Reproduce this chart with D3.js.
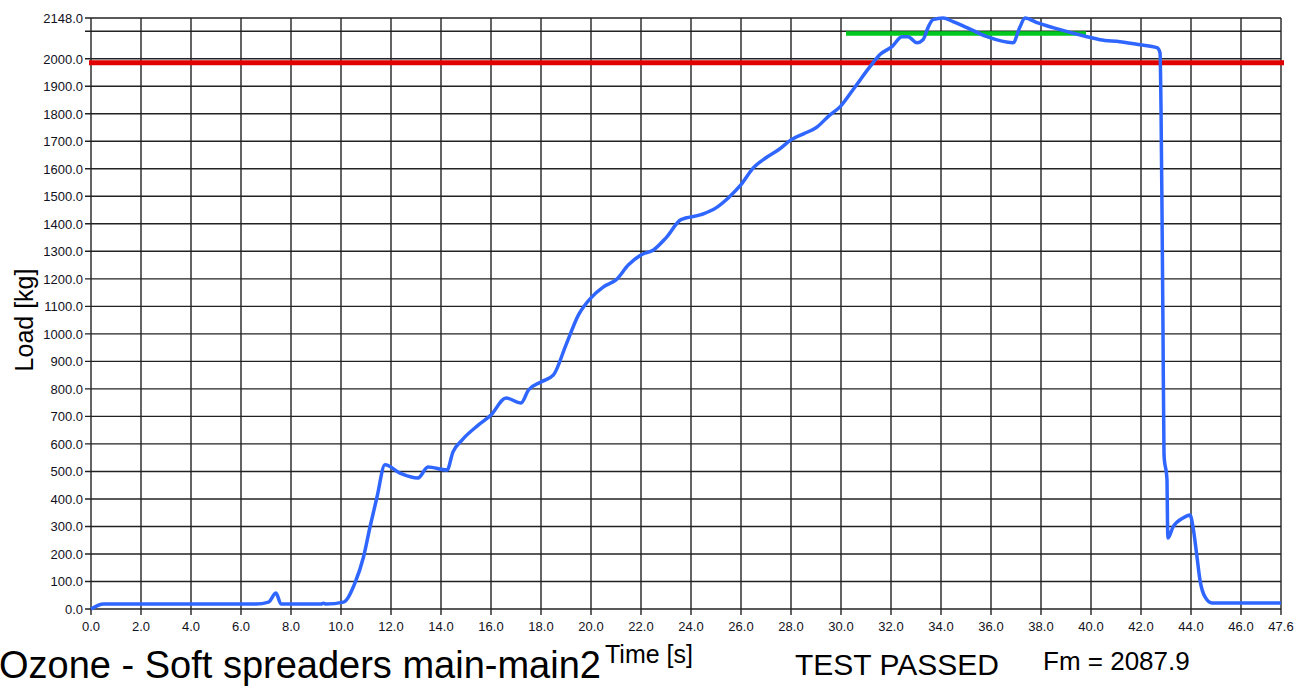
<!DOCTYPE html>
<html>
<head>
<meta charset="utf-8">
<script src="https://cdn.jsdelivr.net/npm/d3@7"></script>
<style>
  html, body { margin: 0; padding: 0; background: #fff; overflow: hidden; }
  svg { display: block; font-family: "Liberation Sans", Arial, sans-serif; }
</style>
</head>
<body>
<svg id="chart" width="1312" height="687"></svg>
<script>
// load curve
const time = [0, 0.5, 6.6, 7.1, 7.4, 7.6, 9.2, 9.3, 9.4, 10.1, 10.56, 10.9, 11.16, 11.44, 11.76,
  12.36, 13.08, 13.48, 14.24, 14.48, 14.84, 15.5, 16.0, 16.6, 17.2, 17.5, 18.0, 18.5, 19.0,
  19.5, 20.0, 20.5, 21.0, 21.5, 22.0, 22.5, 23.0, 23.6, 24.4, 25.0, 25.5, 26.0, 26.5, 27.0,
  27.5, 28.0, 28.5, 29.0, 29.56, 29.96, 30.48, 31.16, 31.56, 32.04, 32.44, 32.68, 33.04,
  33.28, 33.48, 33.68, 34.08, 34.48, 35.04, 35.84, 36.88, 37.16, 37.36, 37.84, 38.48, 39.84,
  40.36, 41.16, 41.96, 42.64, 42.76, 42.8, 42.84, 42.88, 42.92, 43.04, 43.06, 43.08, 43.28,
  43.68, 43.96, 44.08, 44.24, 44.36, 44.56, 44.84, 47.6];
const load = [0, 18, 18, 25, 58, 18, 18, 21, 18, 25, 95, 189, 298, 407, 524,
  494, 476, 516, 505, 571, 614, 669, 705, 767, 749, 796, 825, 851, 960,
  1069, 1131, 1171, 1196, 1251, 1287, 1305, 1349, 1415, 1433, 1458, 1495, 1542, 1604, 1640,
  1669, 1705, 1727, 1749, 1796, 1825, 1887, 1971, 2015, 2044, 2080, 2080, 2058,
  2069, 2113, 2142, 2148, 2135, 2113, 2080, 2058, 2116, 2148, 2131, 2113, 2080,
  2069, 2062, 2051, 2040, 2022, 1825, 1450, 1015, 560, 469, 313, 258, 298,
  331, 342, 298, 189, 105, 44, 22, 22];

const limitLoad = 1985;           // red limit
const holdStart = 30.2, holdEnd = 39.8, holdLoad = 2092; // green hold

const xTicks = [0, 2, 4, 6, 8, 10, 12, 14, 16, 18, 20, 22, 24, 26, 28, 30, 32, 34, 36, 38, 40, 42, 44, 46, 47.6];
const yTicks = [0, 100, 200, 300, 400, 500, 600, 700, 800, 900, 1000, 1100, 1200, 1300, 1400,
  1500, 1600, 1700, 1800, 1900, 2000, 2100, 2148];
const yLabelled = yTicks.filter(d => d !== 2100);

const svg = d3.select("#chart");
const x = d3.scaleLinear().domain([0, 47.6]).range([91, 1281]);
const y = d3.scaleLinear().domain([0, 2148]).range([609, 18]);

// grid
svg.append("g")
  .selectAll("line.v")
  .data(xTicks)
  .enter()
  .append("line")
  .attr("x1", d => x(d)).attr("x2", d => x(d))
  .attr("y1", y(2148)).attr("y2", y(0) + 6)
  .attr("stroke", "#222").attr("stroke-width", 1.4);

svg.append("g")
  .selectAll("line.h")
  .data(yTicks)
  .enter()
  .append("line")
  .attr("x1", x(0) - 6).attr("x2", x(47.6))
  .attr("y1", d => y(d)).attr("y2", d => y(d))
  .attr("stroke", "#222").attr("stroke-width", 1.4);

// tick labels
svg.append("g")
  .selectAll("text")
  .data(xTicks)
  .enter()
  .append("text")
  .attr("x", d => x(d))
  .attr("y", 631)
  .attr("text-anchor", "middle")
  .style("font-size", "13px")
  .style("fill", "#111122")
  .text(d => d.toFixed(1));

svg.append("g")
  .selectAll("text")
  .data(yLabelled)
  .enter()
  .append("text")
  .attr("x", 83)
  .attr("y", d => y(d) + 5)
  .attr("text-anchor", "end")
  .style("font-size", "13px")
  .style("fill", "#111122")
  .text(d => d.toFixed(1));

// limit + hold lines
svg.append("line")
  .attr("x1", x(0) - 2).attr("x2", x(47.6) + 3)
  .attr("y1", y(limitLoad)).attr("y2", y(limitLoad))
  .attr("stroke", "#e00000").attr("stroke-width", 5);

svg.append("line")
  .attr("x1", x(holdStart)).attr("x2", x(holdEnd))
  .attr("y1", y(holdLoad)).attr("y2", y(holdLoad))
  .attr("stroke", "#00c81e").attr("stroke-width", 4.5);

// load curve
const pts = time.map((t, i) => [t, load[i]]);
svg.append("path")
  .datum(pts)
  .attr("fill", "none")
  .attr("stroke", "#2f66ff")
  .attr("stroke-width", 3.5)
  .attr("stroke-linejoin", "round")
  .attr("d", d3.line().x(d => x(d[0])).y(d => y(d[1])).curve(d3.curveMonotoneX));

// texts
svg.append("text")
  .attr("transform", "translate(33,320) rotate(-90)")
  .attr("text-anchor", "middle")
  .style("font-size", "25px")
  .text("Load [kg]");

svg.append("text")
  .attr("x", -1).attr("y", 678)
  .style("font-size", "38px")
  .text("Ozone - Soft spreaders main-main2");

svg.append("text")
  .attr("x", 605).attr("y", 663)
  .style("font-size", "25px")
  .text("Time [s]");

svg.append("text")
  .attr("x", 795).attr("y", 675)
  .style("font-size", "30px")
  .text("TEST PASSED");

svg.append("text")
  .attr("x", 1043).attr("y", 670)
  .style("font-size", "26px")
  .text("Fm = 2087.9");
</script>
</body>
</html>
